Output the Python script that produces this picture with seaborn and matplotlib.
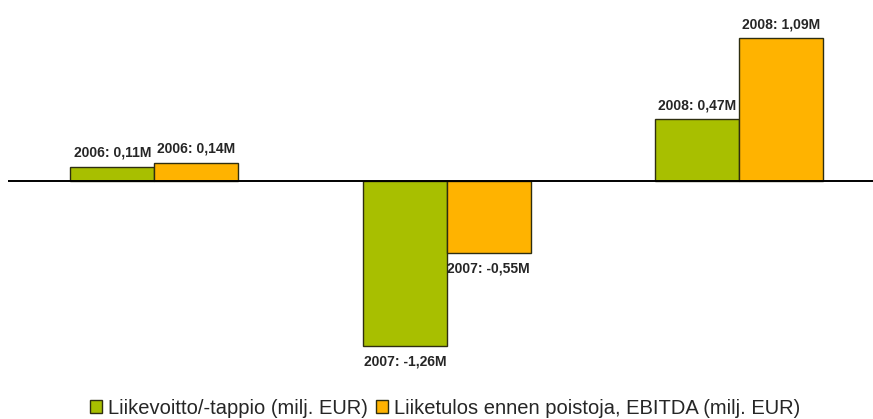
import pandas as pd
import matplotlib.pyplot as plt
import seaborn as sns

# Data
years = ["2006", "2007", "2008"]
liikevoitto = [0.11, -1.26, 0.47]
ebitda = [0.14, -0.55, 1.09]
series_names = ["Liikevoitto/-tappio (milj. EUR)",
                "Liiketulos ennen poistoja, EBITDA (milj. EUR)"]
colors = ["#a8bf00", "#ffb300"]

df = pd.DataFrame({
    "year": years * 2,
    "value": liikevoitto + ebitda,
    "series": [series_names[0]] * 3 + [series_names[1]] * 3,
})

sns.set_style("white")
plt.rcParams["font.family"] = ["Liberation Sans", "DejaVu Sans"]

fig = plt.figure(figsize=(8.73, 4.19), dpi=100)
ax = fig.add_axes([8 / 873, 1 - 372 / 419, 866 / 873, 372 / 419])

sns.barplot(data=df, x="year", y="value", hue="series", palette=colors,
            saturation=1, width=0.574, edgecolor="#2e2e10", linewidth=1.0,
            ax=ax, legend=False)

ax.set_xlim(-0.5, -0.5 + 866 / 292.5)
ax.set_ylim(-(372 - 181) / 131.2, 181 / 131.2)
ax.axhline(0, color="black", linewidth=1.4)
for s in ax.spines.values():
    s.set_visible(False)
ax.set_xticks([])
ax.set_yticks([])
ax.set_xlabel("")
ax.set_ylabel("")

# value labels
for cont in ax.containers:
    for bar, yr in zip(cont, years):
        v = bar.get_height()
        x = bar.get_x() + bar.get_width() / 2
        txt = f"{yr}: {v:.2f}M".replace(".", ",")
        if v >= 0:
            ax.annotate(txt, (x, v), xytext=(0, 5), textcoords="offset points",
                        ha="center", va="bottom", fontsize=10, fontweight="bold")
        else:
            ax.annotate(txt, (x, v), xytext=(0, -6), textcoords="offset points",
                        ha="center", va="top", fontsize=10, fontweight="bold")

handles = [plt.Rectangle((0, 0), 1, 1, facecolor=c, edgecolor="#2e2e10", linewidth=1.0)
           for c in colors]
fig.legend(handles, series_names, loc="center", bbox_to_anchor=(0.51, 1 - 408 / 419),
           ncol=2, frameon=False, fontsize=14.5, handlelength=0.6, handleheight=0.6,
           handletextpad=0.3, columnspacing=0.4)

fig.savefig("out.png", dpi=100)
